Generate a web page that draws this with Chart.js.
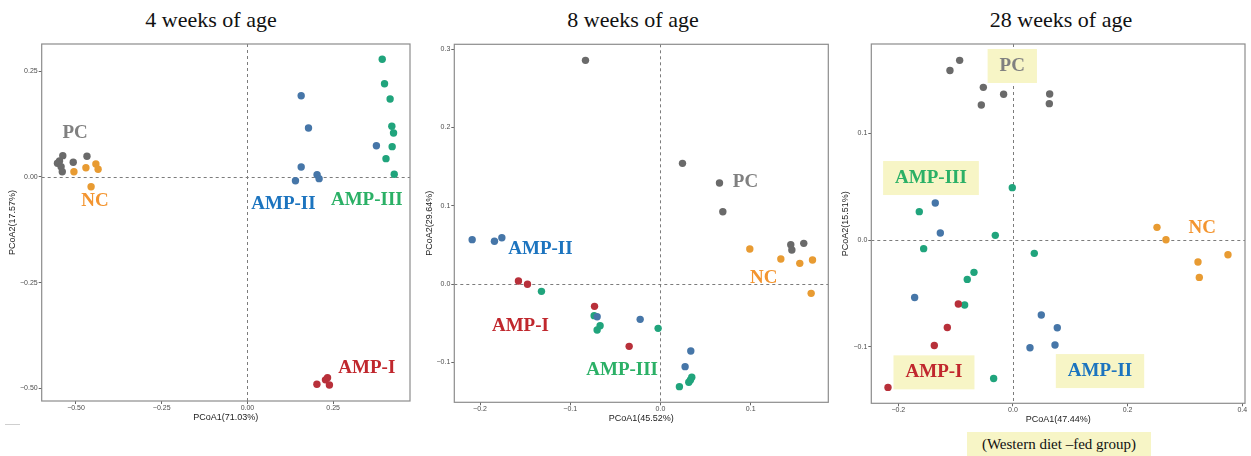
<!DOCTYPE html>
<html><head><meta charset="utf-8">
<script src="https://cdn.jsdelivr.net/npm/chart.js@4.4.1/dist/chart.umd.min.js"></script>
<style>
html,body{margin:0;padding:0;background:#fff;width:1251px;height:456px;overflow:hidden;}
canvas{position:absolute;top:0;}
.title{position:absolute;top:9px;font-family:"Liberation Serif",serif;font-size:22px;line-height:22px;color:#111;white-space:nowrap;transform:translateX(-50%);}
.note{position:absolute;left:967px;top:432px;width:184px;height:24px;background:#f7f5c6;font-family:"Liberation Serif",serif;font-size:15px;line-height:24px;text-align:center;color:#111;white-space:nowrap;}
.mark{position:absolute;left:5px;top:424px;width:15px;height:1px;background:#cfcfcf;}
</style></head><body>
<div class="title" style="left:211px">4 weeks of age</div>
<div class="title" style="left:633px">8 weeks of age</div>
<div class="title" style="left:1061px">28 weeks of age</div>
<canvas id="c1" width="420" height="456" style="left:0px"></canvas>
<canvas id="c2" width="420" height="456" style="left:420px"></canvas>
<canvas id="c3" width="415" height="456" style="left:836px"></canvas>
<div class="note">(Western diet –fed group)</div>
<div class="mark"></div>
<script>
// ---------- DATA ----------
const groups = ['PC', 'NC', 'AMP-I', 'AMP-II', 'AMP-III'];

// 4 weeks of age  [PCoA1, PCoA2]
const w4_PC = [[-0.5385,0.0504],[-0.548,0.0379],[-0.554,0.0324],[-0.5435,0.0244],[-0.540,0.0125],[-0.508,0.0348],[-0.468,0.049]];
const w4_NC = [[-0.506,0.0125],[-0.471,0.022],[-0.442,0.0308],[-0.4355,0.0182],[-0.456,-0.023]];
const w4_AMP1 = [[0.2025,-0.4904],[0.2275,-0.480],[0.239,-0.492],[0.2335,-0.4748]];
const w4_AMP2 = [[0.1567,0.1923],[0.178,0.116],[0.376,0.074],[0.1567,0.0237],[0.203,0.0054],[0.209,-0.004],[0.140,-0.0088]];
const w4_AMP3 = [[0.393,0.2785],[0.3997,0.2207],[0.416,0.1845],[0.421,0.120],[0.426,0.104],[0.422,0.0717],[0.404,0.0433],[0.428,0.0064]];

// 8 weeks of age
const w8_PC = [[-0.0831,0.2855],[0.0244,0.154],[0.0654,0.129],[0.0691,0.0923],[0.1444,0.0502],[0.1456,0.0434],[0.1588,0.0519]];
const w8_NC = [[0.099,0.0447],[0.1334,0.0319],[0.1544,0.0264],[0.1685,0.0306],[0.167,-0.0119]];
const w8_AMP1 = [[-0.1574,0.0038],[-0.1474,-0.0004],[-0.0731,-0.0285],[-0.0347,-0.0796]];
const w8_AMP2 = [[-0.2087,0.0566],[-0.184,0.0545],[-0.1758,0.0591],[-0.0702,-0.0417],[-0.0225,-0.0451],[0.0336,-0.0855],[0.0273,-0.1055]];
const w8_AMP3 = [[-0.1319,-0.0094],[-0.0735,-0.0404],[-0.0669,-0.0532],[-0.0702,-0.0587],[-0.0026,-0.0566],[0.021,-0.131],[0.0314,-0.1255],[0.0332,-0.1226],[0.0347,-0.1191]];

// 28 weeks of age
const w28_PC = [[-0.1099,0.1588],[-0.093,0.1684],[-0.0517,0.1431],[-0.0163,0.1366],[-0.0552,0.1266],[0.064,0.1369],[0.0634,0.1278]];
const w28_NC = [[0.2512,0.0119],[0.2669,0.0003],[0.3227,-0.0206],[0.325,-0.035],[0.375,-0.01375]];
const w28_AMP1 = [[-0.0953,-0.06],[-0.1145,-0.0819],[-0.1372,-0.0988],[-0.218,-0.1381]];
const w28_AMP2 = [[-0.1355,0.0347],[-0.1267,0.0066],[-0.1715,-0.0538],[0.0494,-0.0703],[0.0773,-0.0822],[0.0733,-0.0984],[0.0297,-0.1009]];
const w28_AMP3 = [[-0.0012,0.0491],[-0.1634,0.0266],[-0.0308,0.0044],[-0.1558,-0.0081],[0.0372,-0.0125],[-0.068,-0.0303],[-0.0797,-0.0369],[-0.0843,-0.0609],[-0.0337,-0.1297]];

// tick values and labels
const w4_xTicks = [-0.5,-0.25,0,0.25];  const w4_xLabels = ['\u22120.50','\u22120.25','0.00','0.25'];
const w4_yTicks = [-0.5,-0.25,0,0.25];  const w4_yLabels = ['\u22120.50','\u22120.25','0.00','0.25'];
const w8_xTicks = [-0.2,-0.1,0,0.1];    const w8_xLabels = ['\u22120.2','\u22120.1','0.0','0.1'];
const w8_yTicks = [-0.1,0,0.1,0.2,0.3]; const w8_yLabels = ['\u22120.1','0.0','0.1','0.2','0.3'];
const w28_xTicks = [-0.2,0,0.2,0.4];    const w28_xLabels = ['\u22120.2','0.0','0.2','0.4'];
const w28_yTicks = [-0.1,0,0.1];        const w28_yLabels = ['\u22120.1','0.0','0.1'];

const axisTitles = {
  w4: ['PCoA1(71.03%)','PCoA2(17.57%)'],
  w8: ['PCoA1(45.52%)','PCoA2(29.64%)'],
  w28: ['PCoA1(47.44%)','PCoA2(15.51%)']
};

// ---------- STYLES ----------
const pointColors = {'PC':'#6a6a6a','NC':'#e89b32','AMP-I':'#b8303a','AMP-II':'#4676a8','AMP-III':'#20a47c'};
const labelColors = {'PC':'#808080','NC':'#f39530','AMP-I':'#c0272d','AMP-II':'#1c74bf','AMP-III':'#2bb066'};

const decor = {
  id: 'decor',
  beforeDatasetsDraw(chart, args, o) {
    const {ctx, chartArea: a, scales: {x, y}} = chart;
    ctx.save();
    ctx.strokeStyle = '#7c7c7c'; ctx.lineWidth = 1; ctx.setLineDash([3, 3]);
    const x0 = Math.round(x.getPixelForValue(0)) + 0.5, y0 = Math.round(y.getPixelForValue(0)) + 0.5;
    ctx.beginPath();
    ctx.moveTo(x0, a.top); ctx.lineTo(x0, a.bottom);
    ctx.moveTo(a.left, y0); ctx.lineTo(a.right, y0);
    ctx.stroke();
    ctx.restore();
    (o.labels || []).forEach(l => {
      ctx.save();
      ctx.font = 'bold 19px "Liberation Serif"';
      const px = x.getPixelForValue(l.x), py = y.getPixelForValue(l.y);
      if (l.box) {
        const w = ctx.measureText(l.text).width + 24;
        ctx.fillStyle = '#f7f5c6';
        ctx.fillRect(px - w / 2, py - 17, w, 34);
      }
      ctx.fillStyle = labelColors[l.text];
      ctx.textAlign = 'center'; ctx.textBaseline = 'middle';
      ctx.fillText(l.text, px, py);
      ctx.restore();
    });
  },
  afterDatasetsDraw(chart) {
    const {ctx, chartArea: a} = chart;
    ctx.save();
    ctx.strokeStyle = '#8c8c8c'; ctx.lineWidth = 1.2;
    ctx.strokeRect(a.left, a.top, a.right - a.left, a.bottom - a.top);
    ctx.restore();
  }
};

function makeChart(id, sets, xr, yr, xt, xl, yt, yl, titles, lay, labels) {
  const datasets = groups.map((g, i) => ({
    label: g,
    data: sets[i].map(p => ({x: p[0], y: p[1]})),
    backgroundColor: pointColors[g],
    borderWidth: 0,
    pointRadius: 3.7,
    pointHoverRadius: 3.7
  }));
  const tickFont = {size: 7, family: '"Liberation Sans", Arial, sans-serif'};
  const titleFont = {size: 9, family: '"Liberation Sans", Arial, sans-serif'};
  new Chart(document.getElementById(id), {
    type: 'scatter',
    data: {datasets},
    options: {
      responsive: false, animation: false, devicePixelRatio: 1,
      layout: {padding: {left: lay.L, right: lay.R, top: lay.T, bottom: lay.B}},
      plugins: {legend: {display: false}, tooltip: {enabled: false}, decor: {labels}},
      scales: {
        x: {
          type: 'linear', min: xr[0], max: xr[1],
          afterBuildTicks: s => { s.ticks = xt.map(v => ({value: v})); },
          afterFit: s => { s.height = 22; },
          ticks: {callback: (v, i) => xl[i], font: tickFont, color: '#4d4d4d', padding: 0, maxRotation: 0, autoSkip: false},
          grid: {drawOnChartArea: false, tickLength: 3, tickColor: '#666', color: '#666'},
          border: {display: false},
          title: {display: true, text: titles[0], font: titleFont, color: '#222', padding: {top: 0, bottom: 0}}
        },
        y: {
          type: 'linear', min: yr[0], max: yr[1],
          afterBuildTicks: s => { s.ticks = yt.map(v => ({value: v})); },
          afterFit: s => { s.width = lay.W; },
          ticks: {callback: (v, i) => yl[i], font: tickFont, color: '#4d4d4d', padding: 1, autoSkip: false},
          grid: {drawOnChartArea: false, tickLength: 3, tickColor: '#666', color: '#666'},
          border: {display: false},
          title: {display: true, text: titles[1], font: titleFont, color: '#222', padding: {top: lay.tp, bottom: 0}}
        }
      }
    },
    plugins: [decor]
  });
}

makeChart('c1', [w4_PC, w4_NC, w4_AMP1, w4_AMP2, w4_AMP3],
  [-0.60, 0.474], [-0.53, 0.3146], w4_xTicks, w4_xLabels, w4_yTicks, w4_yLabels, axisTitles.w4,
  {L: 5, W: 36.7, T: 44, R: 10, B: 33, tp: 2.6},
  [{text:'PC', x:-0.5026, y:0.1034}, {text:'NC', x:-0.4443, y:-0.0568},
   {text:'AMP-II', x:0.105, y:-0.0639}, {text:'AMP-III', x:0.348, y:-0.0544},
   {text:'AMP-I', x:0.348, y:-0.4526}]);

makeChart('c2', [w8_PC, w8_NC, w8_AMP1, w8_AMP2, w8_AMP3],
  [-0.2285, 0.186], [-0.151, 0.306], w8_xTicks, w8_xLabels, w8_yTicks, w8_yLabels, axisTitles.w8,
  {L: 2, W: 32.3, T: 44.3, R: 11.7, B: 31.7, tp: 2.6},
  [{text:'PC', x:0.0942, y:0.1307}, {text:'AMP-II', x:-0.133, y:0.0447},
   {text:'NC', x:0.1145, y:0.0073}, {text:'AMP-I', x:-0.1552, y:-0.0533},
   {text:'AMP-III', x:-0.0425, y:-0.1098}]);

makeChart('c3', [w28_PC, w28_NC, w28_AMP1, w28_AMP2, w28_AMP3],
  [-0.2471, 0.4047], [-0.153, 0.1837], w28_xTicks, w28_xLabels, w28_yTicks, w28_yLabels, axisTitles.w28,
  {L: 2, W: 33.3, T: 44, R: 6, B: 30.7, tp: 2.6},
  [{text:'PC', x:-0.0012, y:0.1631, box:true}, {text:'AMP-III', x:-0.143, y:0.0581, box:true},
   {text:'AMP-I', x:-0.1378, y:-0.124, box:true}, {text:'AMP-II', x:0.1518, y:-0.1228, box:true},
   {text:'NC', x:0.330, y:0.011}]);
</script>
</body></html>
